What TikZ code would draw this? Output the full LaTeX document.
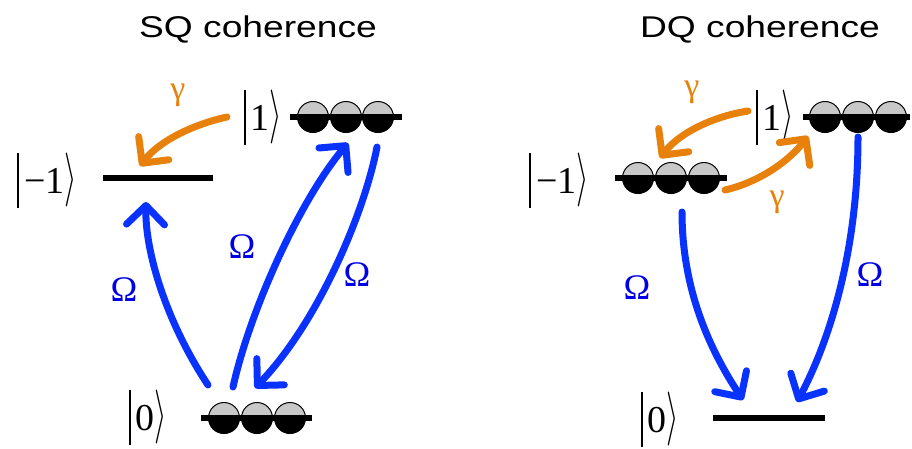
\documentclass[tikz,border=0pt]{standalone}
\usepackage{fontspec}
\setmainfont{Liberation Serif}
\newfontfamily\titlefont{Liberation Sans}
\usetikzlibrary{arrows.meta}
\definecolor{qblue}{RGB}{10,50,255}
\definecolor{qorange}{RGB}{232,128,12}
\definecolor{qgray}{RGB}{200,200,200}
\definecolor{omegablue}{RGB}{0,0,230}
\newcommand\ketlabel[1]{\rule[-14pt]{2.2pt}{55pt}\hspace{5pt}{\fontsize{38}{40}\selectfont #1}\hspace{0pt}\scalebox{3.2}[5.4]{$\rangle$}}
\tikzset{
  levelline/.style={line width=6pt, draw=black},
  transition/.style={draw=qblue, line width=7pt, line cap=round,
    -{Straight Barb[length=19pt,width=38pt,round]}},
  decay/.style={draw=qorange, line width=7pt, line cap=round,
    -{Straight Barb[length=19pt,width=38pt,round]}},
  ket/.style={inner sep=0pt},
  omegalabel/.style={text=omegablue, font=\fontsize{36}{40}\selectfont, inner sep=0pt},
  gammalabel/.style={text=qorange, font=\fontsize{34}{40}\selectfont, inner sep=0pt},
  titlelabel/.style={font=\titlefont\fontsize{30}{36}\selectfont, inner sep=0pt, anchor=base},
  atom/.pic={
    \fill[qgray] (-15.5,0) arc[start angle=180,end angle=360,radius=15.5] -- cycle;
    \fill[black] (-15.5,0) arc[start angle=180,end angle=0,radius=15.5] -- cycle;
    \draw[line width=1pt] (0,0) circle[radius=15.5];
  }
}
\begin{document}
\begin{tikzpicture}[x=1pt,y=-1pt]
\useasboundingbox (0,0) rectangle (912,448);
% titles
\node[titlelabel] (sqtitle) at (258,37) {\scalebox{1.24}[1]{SQ coherence}};
\node[titlelabel] (dqtitle) at (760,37) {\scalebox{1.24}[1]{DQ coherence}};

% ---------- SQ ----------
\node[ket] (sqket1) at (263,117) {\ketlabel{1}};
\node[ket] (sqketm1) at (47,180) {\ketlabel{−1}};
\node[ket] (sqket0) at (148,417) {\ketlabel{0}};
% level |1> with atoms
\pic at (313,117) {atom};
\pic at (346,117) {atom};
\pic at (378,117) {atom};
\draw[levelline] (290,117) -- (402,117);
% level |-1>
\draw[levelline] (103,178) -- (213,178);
% level |0> with atoms
\pic at (224,418) {atom};
\pic at (257,418) {atom};
\pic at (290,418) {atom};
\draw[levelline] (201,418) -- (312,418);

\coordinate (sqA1s) at (208,385);
\coordinate (sqA1e) at (146,202);
\coordinate (sqA2s) at (233,387);
\coordinate (sqA2e) at (348,143);
\coordinate (sqA3s) at (377,147);
\coordinate (sqA3e) at (255,388);
\coordinate (sqG1s) at (227,117);
\coordinate (sqG1e) at (140,166);

\draw[transition] (sqA1s) .. controls (165,320) and (145,250) .. (sqA1e);
\draw[transition] (sqA2s) .. controls (250,310) and (300,200) .. (sqA2e);
\draw[transition] (sqA3s) .. controls (365,210) and (320,320) .. (sqA3e);
\draw[decay] (sqG1s) .. controls (195,124) and (160,140) .. (sqG1e);

\node[omegalabel] (sqom1) at (124,290) {Ω};
\node[omegalabel] (sqom2) at (242,247) {Ω};
\node[omegalabel] (sqom3) at (357,275) {Ω};
\node[gammalabel] (sqga1) at (178,95) {γ};

% ---------- DQ ----------
\node[ket] (dqket1) at (775,117) {\ketlabel{1}};
\node[ket] (dqketm1) at (559,180) {\ketlabel{−1}};
\node[ket] (dqket0) at (660,419) {\ketlabel{0}};
\pic at (825,117) {atom};
\pic at (858,117) {atom};
\pic at (891,117) {atom};
\draw[levelline] (803,117) -- (910,117);
\pic at (638,178) {atom};
\pic at (671,178) {atom};
\pic at (704,178) {atom};
\draw[levelline] (615,178) -- (727,178);
\draw[levelline] (713,418) -- (825,418);

\coordinate (dqB1s) at (682,212);
\coordinate (dqB1e) at (743,400);
\coordinate (dqB2s) at (858,137);
\coordinate (dqB2e) at (797,402);
\coordinate (dqG1s) at (748,111);
\coordinate (dqG1e) at (660,158);
\coordinate (dqG2s) at (725,190);
\coordinate (dqG2e) at (808,136);

\draw[transition] (dqB1s) .. controls (682,290) and (710,350) .. (dqB1e);
\draw[transition] (dqB2s) .. controls (858,250) and (830,340) .. (dqB2e);
\draw[decay] (dqG1s) .. controls (715,116) and (680,132) .. (dqG1e);
\draw[decay] (dqG2s) .. controls (760,182) and (790,160) .. (dqG2e);

\node[omegalabel] (dqom1) at (637,288) {Ω};
\node[omegalabel] (dqom2) at (870,275) {Ω};
\node[gammalabel] (dqga1) at (692,92) {γ};
\node[gammalabel] (dqga2) at (777,202) {γ};
\end{tikzpicture}
\end{document}
